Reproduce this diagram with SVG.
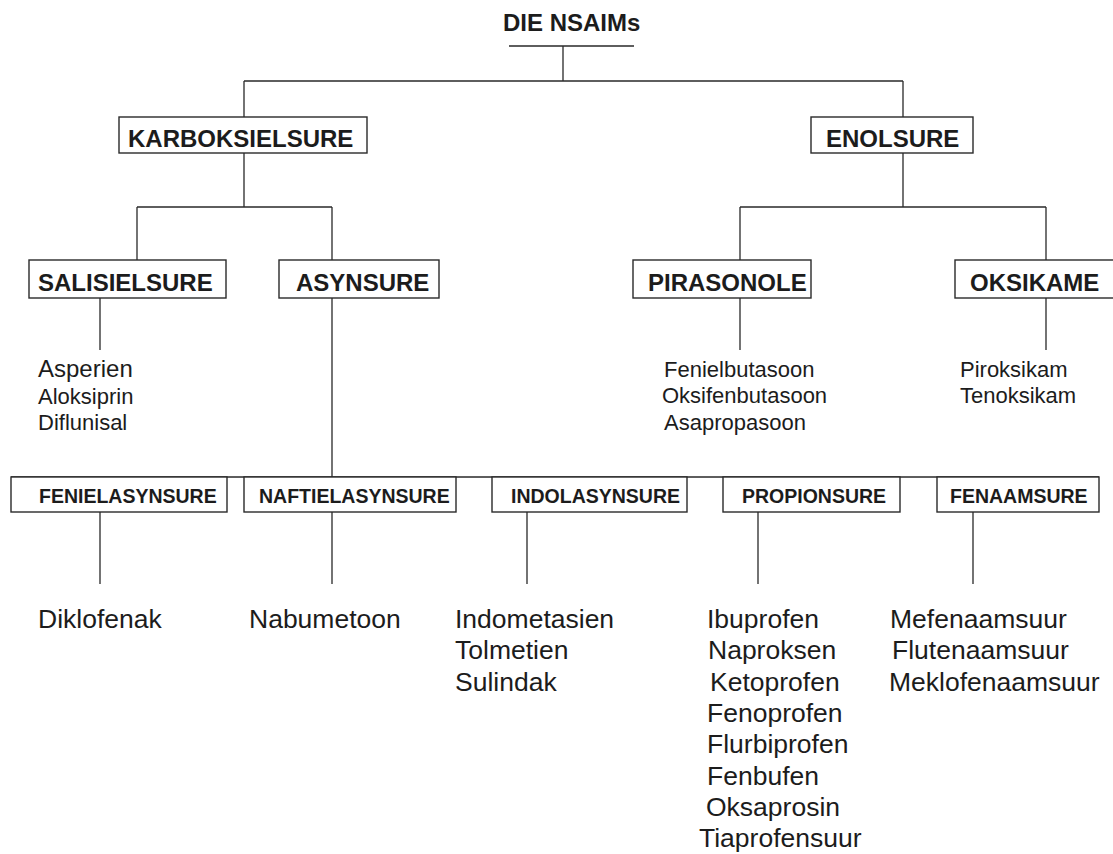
<svg xmlns="http://www.w3.org/2000/svg" width="1113" height="854" viewBox="0 0 1113 854">
<style>
text{font-family:"Liberation Sans",Arial,sans-serif;fill:#1c1c1c}
.h1{font-size:24px;font-weight:bold}
.h2{font-size:19.5px;font-weight:bold}
.t{font-size:24px;font-weight:bold}
.m{font-size:22px}
.l{font-size:26.5px}
.box{fill:#fff;stroke:#2a2a2a;stroke-width:1.4}
.ln{fill:none;stroke:#2a2a2a;stroke-width:1.3}
</style>
<rect width="1113" height="854" fill="#fff"/>
<g id="connectors" class="ln">
<path d="M509 46H634M563 46V81M244 81H903"/>
<path d="M244 81V117M903 81V117"/>
<path d="M244 153V207M137 207H332M137 207V260M332 207V260"/>
<path d="M903 153V207M740 207H1046M740 207V260M1046 207V260"/>
<path d="M100 298V350M740 298V350M1046 298V350"/>
<path d="M332 298V477M11 477H1099"/>
<path d="M100 512V584M332 512V584M527 512V584M758 512V584M973 512V584"/>
</g>
<g id="title"><text class="t" x="503" y="31">DIE NSAIMs</text></g>
<g id="karboksielsure"><rect class="box" x="119" y="117" width="248" height="36"/><text class="h1" x="128" y="147">KARBOKSIELSURE</text></g>
<g id="enolsure"><rect class="box" x="811" y="117" width="162" height="36"/><text class="h1" x="826" y="147">ENOLSURE</text></g>
<g id="salisielsure"><rect class="box" x="29" y="260" width="197" height="38"/><text class="h1" x="38" y="291">SALISIELSURE</text></g>
<g id="asynsure"><rect class="box" x="279" y="260" width="160" height="38"/><text class="h1" x="296" y="291">ASYNSURE</text></g>
<g id="pirasonole"><rect class="box" x="633" y="260" width="178" height="38"/><text class="h1" x="648" y="291">PIRASONOLE</text></g>
<g id="oksikame"><rect class="box" x="955" y="260" width="160" height="38"/><text class="h1" x="970" y="291">OKSIKAME</text></g>
<g id="salisielsure-list"><text class="m" x="38" y="377" style="font-size:24px">Asperien</text><text class="m" x="38" y="404">Aloksiprin</text><text class="m" x="38" y="430">Diflunisal</text></g>
<g id="pirasonole-list"><text class="m" x="664" y="377">Fenielbutasoon</text><text class="m" x="662" y="403">Oksifenbutasoon</text><text class="m" x="664" y="430">Asapropasoon</text></g>
<g id="oksikame-list"><text class="m" x="960" y="377">Piroksikam</text><text class="m" x="960" y="403">Tenoksikam</text></g>
<g id="fenielasynsure"><rect class="box" x="11" y="477" width="216" height="35"/><text class="h2" x="39" y="503">FENIELASYNSURE</text></g>
<g id="naftielasynsure"><rect class="box" x="244" y="477" width="212" height="35"/><text class="h2" x="259" y="503">NAFTIELASYNSURE</text></g>
<g id="indolasynsure"><rect class="box" x="492" y="477" width="195" height="35"/><text class="h2" x="511" y="503">INDOLASYNSURE</text></g>
<g id="propionsure"><rect class="box" x="723" y="477" width="177" height="35"/><text class="h2" x="742" y="503">PROPIONSURE</text></g>
<g id="fenaamsure"><rect class="box" x="937" y="477" width="162" height="35"/><text class="h2" x="950" y="503">FENAAMSURE</text></g>
<g id="fenielasynsure-list"><text class="l" x="38" y="628">Diklofenak</text></g>
<g id="naftielasynsure-list"><text class="l" x="249" y="628">Nabumetoon</text></g>
<g id="indolasynsure-list"><text class="l" x="455" y="628">Indometasien</text><text class="l" x="455" y="659">Tolmetien</text><text class="l" x="455" y="691">Sulindak</text></g>
<g id="propionsure-list"><text class="l" x="707" y="628">Ibuprofen</text><text class="l" x="708" y="659">Naproksen</text><text class="l" x="710" y="691">Ketoprofen</text><text class="l" x="707" y="722">Fenoprofen</text><text class="l" x="707" y="753">Flurbiprofen</text><text class="l" x="707" y="785">Fenbufen</text><text class="l" x="706" y="816">Oksaprosin</text><text class="l" x="699" y="847">Tiaprofensuur</text></g>
<g id="fenaamsure-list"><text class="l" x="890" y="628">Mefenaamsuur</text><text class="l" x="892" y="659">Flutenaamsuur</text><text class="l" x="889" y="691">Meklofenaamsuur</text></g>
</svg>
